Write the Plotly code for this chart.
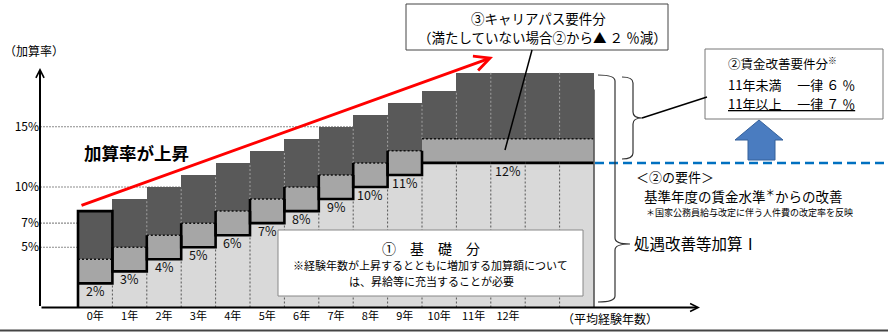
import plotly.graph_objects as go

# ---------------- data ----------------
years = list(range(15))
year_ticks = list(range(13))
year_labels = [f"{i}年" for i in year_ticks]
base_rate = [2, 3, 4, 5, 6, 7, 8, 9, 10, 11, 12, 12, 12, 12, 12]      # ① 基礎分
career_rate = [2] * 15                                                # ③ キャリアパス要件分
upper_rate = [4, 4, 4, 4, 4, 4, 4, 4, 4, 4, 4, 5.5, 5.5, 5.5, 5.5]    # 上乗せ部分
base_labels = ["2%", "3%", "4%", "5%", "6%", "7%", "8%", "9%", "10%", "11%",
               "", "", "12%", "", ""]
y_ticks = [5, 7, 10, 15]
y_ticklabels = ["5%", "7%", "10%", "15%"]

# ---------------- geometry ----------------
W, H = 888, 332
ML, MB = 40, 24
PW, PH = W - ML, H - MB
PXU = 34.4
PYU = 12.05
X_LEFT = -0.5 - (78 - ML) / PXU
X_RIGHT = X_LEFT + PW / PXU
Y_BOT = -(PH - 307.5) / PYU
Y_TOP = Y_BOT + PH / PYU

FONT = "Noto Sans CJK JP"


def px(x):
    return (x - ML) / PW


def py(y):
    return (PH - y) / PH


def dx(x):
    return X_LEFT + (x - ML) / PXU


def dy(y):
    return Y_BOT + (PH - y) / PYU


top_rate = [b + c + u for b, c, u in zip(base_rate, career_rate, upper_rate)]
mid_top = [b + c for b, c in zip(base_rate, career_rate)]

fig = go.Figure()
fig.add_trace(go.Bar(x=years, y=base_rate, width=1, marker=dict(color="#d9d9d9", line=dict(width=0)),
                     hoverinfo="skip"))
fig.add_trace(go.Bar(x=years, y=career_rate, width=1, marker=dict(color="#a6a6a6", line=dict(width=0)),
                     hoverinfo="skip"))
fig.add_trace(go.Bar(x=years, y=upper_rate, width=1, marker=dict(color="#595959", line=dict(width=0)),
                     hoverinfo="skip"))

shapes = []
# grid lines
for v in y_ticks:
    shapes.append(dict(type="line", xref="x", yref="y", x0=X_LEFT, x1=14.5, y0=v, y1=v,
                       line=dict(color="#8c8c8c", width=1.2, dash="2px,1px"), layer="below"))

# separators between bars
for i in range(len(years) - 1):
    xb = years[i] + 0.5
    shapes.append(dict(type="line", xref="x", yref="y", x0=xb, x1=xb, y0=0,
                       y1=min(base_rate[i], base_rate[i + 1]),
                       line=dict(color="#555555", width=1, dash="2px,2px")))
    lo = mid_top[i + 1]
    hi = min(top_rate[i], top_rate[i + 1])
    if hi > lo:
        shapes.append(dict(type="line", xref="x", yref="y", x0=xb, x1=xb, y0=lo, y1=hi,
                           line=dict(color="#a0a0a0", width=1, dash="2px,2px")))

# boxes around ③ part
for i in years:
    x0, x1 = years[i] - 0.5, years[i] + 0.5
    b, m = base_rate[i], mid_top[i]
    shapes.append(dict(type="line", xref="x", yref="y", x0=x0, x1=x1, y0=m, y1=m,
                       line=dict(color="#111111", width=1.5, dash="2px,2px")))
    if i == 0:
        t = top_rate[i]
        path = f"M{x0},0 L{x0},{t} L{x1},{t} L{x1},{b} L{x0},{b}"
    elif i < 10:
        path = f"M{x0},{m} L{x0},{b} L{x1},{b} L{x1},{m}"
    else:
        path = f"M{x0},{b} L{x1},{b}"
    shapes.append(dict(type="path", xref="x", yref="y", path=path,
                       line=dict(color="#000000", width=2.6)))
# right edge of last bar
shapes.append(dict(type="line", xref="x", yref="y", x0=14.5, x1=14.5, y0=0, y1=top_rate[-1] - 1.4,
                   line=dict(color="#555555", width=1.6)))

# blue dashed line
shapes.append(dict(type="line", xref="paper", yref="paper", x0=px(595), x1=px(888),
                   y0=py(163), y1=py(163), line=dict(color="#0070C0", width=2.5, dash="9px,5px")))

# white box ①
shapes.append(dict(type="rect", xref="paper", yref="paper", x0=px(278), x1=px(583),
                   y0=py(296), y1=py(230), fillcolor="white", line=dict(color="#888888", width=1)))
# box ③
shapes.append(dict(type="rect", xref="paper", yref="paper", x0=px(406), x1=px(668),
                   y0=py(50), y1=py(4), fillcolor="white", line=dict(color="#444444", width=1)))
# box ②
shapes.append(dict(type="rect", xref="paper", yref="paper", x0=px(705), x1=px(883),
                   y0=py(119), y1=py(49), fillcolor="white", line=dict(color="#777777", width=1)))

# leader lines
shapes.append(dict(type="line", xref="paper", yref="paper", x0=px(532), y0=py(50), x1=px(505), y1=py(150),
                   line=dict(color="#000000", width=1.5)))
shapes.append(dict(type="line", xref="paper", yref="paper", x0=px(642), y0=py(118), x1=px(707), y1=py(97),
                   line=dict(color="#000000", width=1.5)))


def brace(xa, xs, xt, y1, ym, y2, r=6):
    def p(x, y):
        return f"{px(x)},{py(y)}"
    return (f"M{p(xa, y1)} Q{p(xs, y1)} {p(xs, y1 + r)} L{p(xs, ym - r)} "
            f"Q{p(xs, ym)} {p(xt, ym)} Q{p(xs, ym)} {p(xs, ym + r)} "
            f"L{p(xs, y2 - r)} Q{p(xs, y2)} {p(xa, y2)}")


shapes.append(dict(type="path", xref="paper", yref="paper", path=brace(622, 633, 642, 77, 118, 159),
                   line=dict(color="#333333", width=1.2)))
shapes.append(dict(type="path", xref="paper", yref="paper", path=brace(598, 615, 630, 75, 244, 302),
                   line=dict(color="#333333", width=1.2)))

# blue block arrow
pts = [(748, 160), (748, 140), (735, 140), (759, 120), (783, 140), (775, 140), (775, 160)]
arrow_path = "M" + " L".join(f"{px(x)},{py(y)}" for x, y in pts) + " Z"
shapes.append(dict(type="path", xref="paper", yref="paper", path=arrow_path,
                   fillcolor="#4a7cc0", line=dict(color="#34609a", width=1)))

# bottom border line
shapes.append(dict(type="line", xref="paper", yref="paper", x0=px(0), x1=px(888), y0=py(330.5), y1=py(330.5),
                   line=dict(color="#444444", width=2)))

annotations = []

# bar value labels (just under the top of the base segment)
for xi, b, lab in zip(years, base_rate, base_labels):
    if lab:
        annotations.append(dict(text=lab, x=xi, y=b - 0.6, xref="x", yref="y", showarrow=False,
                                xanchor="center", yanchor="middle",
                                font=dict(family=FONT, size=12.5, color="#111111")))


def ann(text, x, y, size, xanchor="center", bold=False, color="#000000", align="center"):
    annotations.append(dict(text=f"<b>{text}</b>" if bold else text, x=px(x), y=py(y),
                            xref="paper", yref="paper", showarrow=False, xanchor=xanchor, yanchor="middle",
                            align=align, font=dict(family=FONT, size=size, color=color)))


# arrows: axes and red
annotations.append(dict(x=X_LEFT, y=dy(68), ax=X_LEFT, ay=dy(307.5), xref="x", yref="y", axref="x", ayref="y",
                        showarrow=True, arrowhead=5, arrowsize=0.8, arrowwidth=2, arrowcolor="#000000",
                        text="", standoff=0))
annotations.append(dict(x=dx(700), y=dy(307.5), ax=X_LEFT, ay=dy(307.5), xref="x", yref="y", axref="x", ayref="y",
                        showarrow=True, arrowhead=5, arrowsize=0.8, arrowwidth=2, arrowcolor="#000000",
                        text="", standoff=0))
annotations.append(dict(x=dx(493), y=dy(57), ax=dx(80), ay=dy(206), xref="x", yref="y", axref="x", ayref="y",
                        showarrow=True, arrowhead=5, arrowsize=1, arrowwidth=3, arrowcolor="#ff0000",
                        text="", standoff=0))

ann("（加算率）", 34, 50, 12)
ann("加算率が上昇", 82, 152, 17.5, xanchor="left", bold=True)
ann("①　基　礎　分", 431, 248, 14)
ann("※経験年数が上昇するとともに増加する加算額について", 430, 265, 11)
ann("は、昇給等に充当することが必要", 431, 281, 11)
ann("③キャリアパス要件分", 538, 18, 13.5)
ann("（満たしていない場合②から▲ ２ ％減）", 542, 37, 13.5)
ann("②賃金改善要件分<sup>※</sup>", 726, 64, 12.5, xanchor="left")
ann("11年未満　 一律 ６ ％", 726, 84, 13, xanchor="left")
ann("<u>11年以上　 一律 ７ ％</u>", 726, 103.5, 13, xanchor="left")
ann("＜②の要件＞", 634, 176, 13, xanchor="left")
ann("基準年度の賃金水準<sup>＊</sup>からの改善", 642, 195, 13.5, xanchor="left")
ann("＊国家公務員給与改定に伴う人件費の改定率を反映", 644, 213, 9, xanchor="left")
ann("処遇改善等加算Ⅰ", 632, 243, 15.5, xanchor="left")
ann("（平均経験年数）", 610, 318, 12)

fig.update_layout(
    width=W, height=H, margin=dict(l=ML, r=0, t=0, b=MB, pad=0),
    paper_bgcolor="white", plot_bgcolor="white",
    barmode="stack", bargap=0, showlegend=False,
    shapes=shapes, annotations=annotations,
    xaxis=dict(range=[X_LEFT, X_RIGHT], tickvals=year_ticks, ticktext=year_labels, showgrid=False,
               zeroline=False, showline=False, ticks="", tickfont=dict(family=FONT, size=11, color="#000")),
    yaxis=dict(range=[Y_BOT, Y_TOP], tickvals=y_ticks, ticktext=y_ticklabels, showgrid=False,
               zeroline=False, showline=False, ticks="", tickfont=dict(family=FONT, size=12, color="#000")),
)

fig.write_html("out.html")
